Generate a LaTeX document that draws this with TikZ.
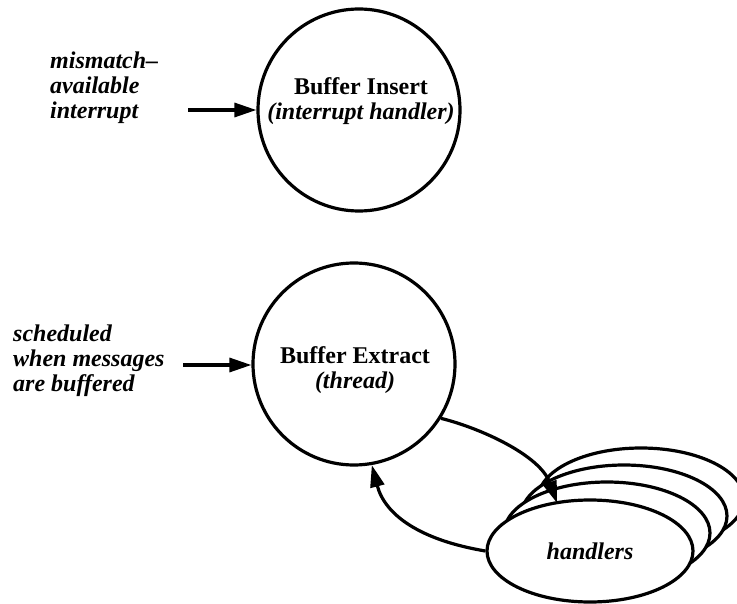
\documentclass[tikz,border=0pt]{standalone}
\usepackage{fontspec}
\setmainfont{Liberation Serif}
\usetikzlibrary{arrows.meta,shapes.geometric}
\tikzset{
  bubble/.style={circle, draw, line width=3.2pt, minimum size=202pt, inner sep=0pt},
  handler/.style={ellipse, draw, fill=white, line width=3.2pt, minimum width=206pt, minimum height=102pt, inner sep=0pt},
  flow/.style={line width=3.2pt, -{Triangle[length=22pt,width=14pt]}},
  lbl/.style={align=left, anchor=west, font=\fontsize{24}{25}\selectfont\bfseries\itshape, inner sep=0pt},
  ttl/.style={align=center, font=\fontsize{24}{25}\selectfont\bfseries, inner sep=0pt}
}
\begin{document}
\begin{tikzpicture}[x=1pt, y=-1pt]
  \useasboundingbox (0,0) rectangle (737,604);

  % interrupt handler
  \node[bubble] (ins) at (359,110) {};
  \node[ttl] (insT) at (361,101) {Buffer Insert\\\textit{(interrupt handler)}};
  \node[lbl] (insL) at (50,88) {mismatch--\\available\\interrupt};
  \coordinate (insS) at (188,110);
  \draw[flow] (insS) -- (ins.west |- insS);

  % extract thread
  \node[bubble] (ext) at (354,364) {};
  \node[ttl] (extT) at (355,370) {Buffer Extract\\\textit{(thread)}};
  \node[lbl] (extL) at (13,361) {scheduled\\when messages\\are buffered};
  \coordinate (extS) at (183,365);
  \draw[flow] (extS) -- (ext.west |- extS);

  % stack of handlers, drawn back to front
  \node[handler] (h4) at (641,499) {};
  \node[handler] (h3) at (624,516) {};
  \node[handler] (h2) at (607,533) {};
  \node[handler] (h1) at (590,551) {\fontsize{24}{25}\selectfont\bfseries\itshape handlers};

  % dispatch to a handler and return to the thread
  \draw[flow] (ext.-32) .. controls (480,428) and (540,455) .. (557,503);
  \draw[flow] (h1.west) .. controls (420,540) and (385,515) .. (ext.-80);
\end{tikzpicture}
\end{document}
